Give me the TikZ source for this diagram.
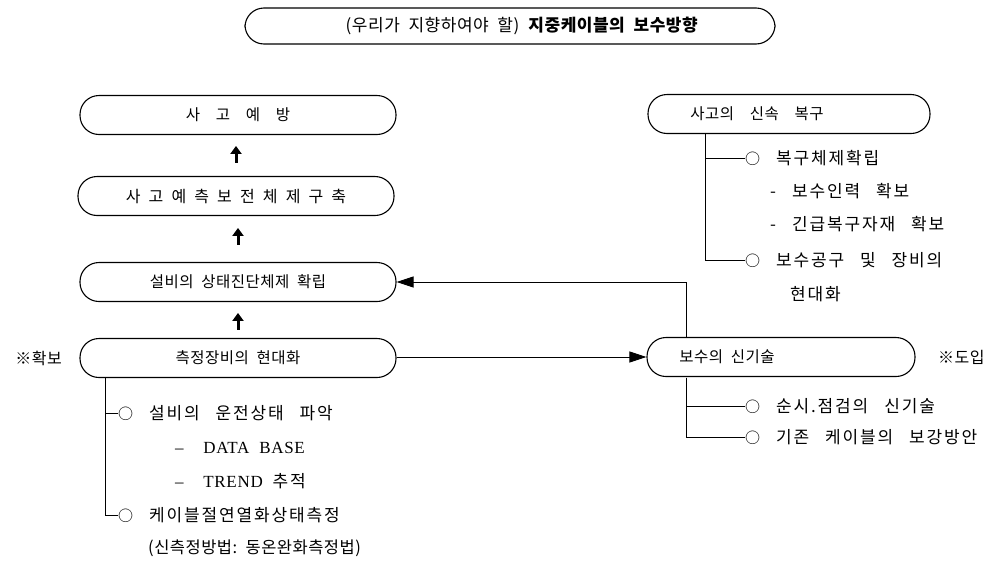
\documentclass[tikz,border=0pt]{standalone}
\usepackage{fontspec}
\setmainfont{Noto Sans CJK KR}
\newfontfamily\kri{Noto Sans CJK KR}[LetterSpace=11,WordSpace=2.8]
\newfontfamily\krp{Noto Sans CJK KR}[LetterSpace=3,WordSpace=2]
\newfontfamily\lat{Liberation Serif}[LetterSpace=4,WordSpace=2]
\newcommand{\bul}{{\fontsize{15}{15}\selectfont ○}}
\usetikzlibrary{arrows.meta}
\tikzset{
  pill/.style={draw, line width=1.1pt, rounded corners=19pt, minimum height=39pt, inner sep=0pt},
  ptext/.style={inner sep=0pt, font=\krp\fontsize{15.5}{17}\selectfont},
  item/.style={anchor=west, inner sep=0pt, font=\kri\fontsize{17}{19}\selectfont},
  upar/.style={line width=3pt, -{Triangle[length=8pt,width=11pt]}},
  conn/.style={line width=0.9pt},
  bigar/.style={line width=0.9pt, -{Triangle[length=17pt,width=11pt]}},
}
\begin{document}
\begin{tikzpicture}[x=1pt,y=-1pt]
\useasboundingbox[fill=white] (0,0) rectangle (1007,568);

% top
\node[pill, minimum width=530pt, minimum height=36pt] (top) at (510,26) {};
\node[ptext, font=\krp\fontsize{17}{19}\selectfont] (toptx) at (522,26) {(우리가 지향하여야 할)\ \textbf{지중케이블의 보수방향}};

% left column
\node[pill, minimum width=316pt, ptext] (p1) at (238,115) {사\ \ 고\ \ 예\ \ 방};
\node[pill, minimum width=316pt, ptext, font=\krp\fontsize{16}{17}\selectfont] (p2) at (236,196) {사\ 고\ 예\ 측\ 보\ 전\ 체\ 제\ 구\ 축};
\node[pill, minimum width=316pt, ptext] (p3) at (238,282) {설비의 상태진단체제 확립};
\node[pill, minimum width=316pt, ptext] (p4) at (238,358) {측정장비의 현대화};
\node[ptext, anchor=east, font=\krp\fontsize{16}{18}\selectfont] (k1) at (62,358) {※확보};

\draw[upar] (p2.north) ++(0,-13) coordinate (a1s) -- ++(0,-17);
\draw[upar] (p3.north) ++(0,-17) coordinate (a2s) -- ++(0,-17);
\draw[upar] (p4.north) ++(0,-8) coordinate (a3s) -- ++(0,-17);

% left tree
\coordinate (lt) at (105,378);
\node[item] (l1) at (118,413) {\bul\ 설비의 운전상태 파악};
\node[item] (l2) at (175,448) {\lat –\ \ DATA BASE};
\node[item] (l3) at (175,481) {\lat –\ \ TREND \kri 추적};
\node[item] (l4) at (118,515) {\bul\ 케이블절연열화상태측정};
\node[item, font=\krp\fontsize{16.5}{18}\selectfont] (l5) at (148,548) {(신측정방법:\ 동온완화측정법)};
\draw[conn] (lt) |- (l1.west);
\draw[conn] (lt) |- (l4.west);

% right top
\node[pill, minimum width=282pt] (r1) at (789,114) {};
\node[ptext] (r1tx) at (757,114) {사고의\ \ 신속\ \ 복구};
\coordinate (rt) at (705,133.5);
\node[item] (r2) at (745,158) {\bul\ 복구체제확립};
\node[item] (r3) at (770,191) {- 보수인력 확보};
\node[item] (r4) at (770,224) {- 긴급복구자재 확보};
\node[item] (r5) at (745,260) {\bul\ 보수공구 및 장비의};
\node[item] (r6) at (790,294) {현대화};
\draw[conn] (rt) |- (r2.west);
\draw[conn] (rt) |- (r5.west);

% right bottom
\node[pill, minimum width=268pt] (b1) at (781,357) {};
\node[ptext] (b1tx) at (727,357) {보수의 신기술};
\node[ptext, anchor=west, font=\krp\fontsize{16}{18}\selectfont] (k2) at (938,357) {※도입};
\coordinate (bt) at (686,377.5);
\node[item] (b2) at (745,406) {\bul\ 순시.점검의 신기술};
\node[item] (b3) at (745,437) {\bul\ 기존 케이블의 보강방안};
\draw[conn] (bt) |- (b2.west);
\draw[conn] (bt) |- (b3.west);

% arrows
\draw[bigar] (p4.east |- b1.west) -- (b1.west);
\draw[bigar] (686,336.5) |- (p3.east);
\end{tikzpicture}
\end{document}
